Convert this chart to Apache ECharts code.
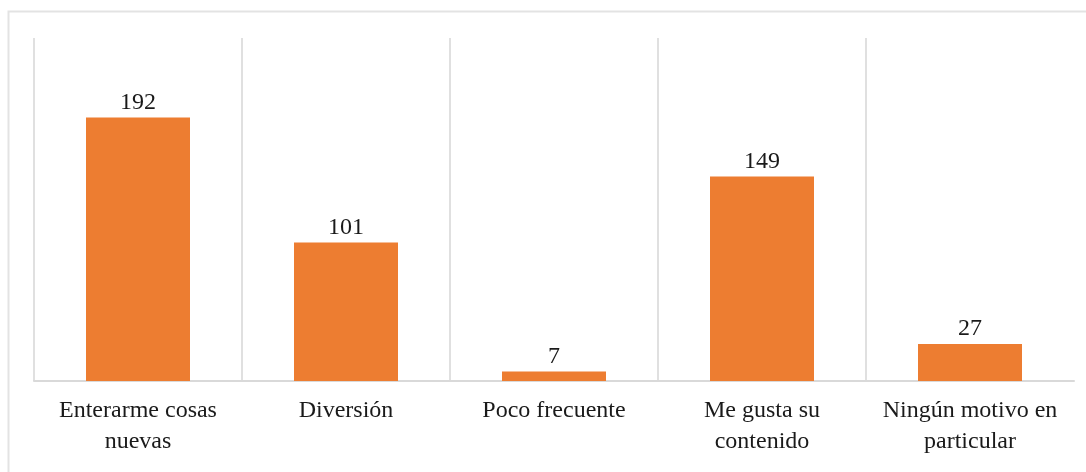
<!DOCTYPE html>
<html>
<head>
<meta charset="utf-8">
<script src="https://cdn.jsdelivr.net/npm/echarts@6/dist/echarts.min.js"></script>
<style>
  html, body { margin: 0; padding: 0; background: #fff; }
  #chart { width: 1086px; height: 472px; }
</style>
</head>
<body>
<div id="chart"></div>
<script>
  // categorias y valores
  const categories = ['Enterarme cosas\nnuevas', 'Diversión', 'Poco frecuente', 'Me gusta su\ncontenido', 'Ningún motivo en\nparticular'];
  const values = [192, 101, 7, 149, 27];

  const myChart = echarts.init(document.getElementById('chart'));
  const option = {
    animation: false,
    textStyle: { fontFamily: '"Liberation Serif", "Times New Roman", serif' },
    graphic: [{
      type: 'rect',
      shape: { x: 8.5, y: 11.5, width: 1100, height: 500 },
      style: { fill: 'none', stroke: '#e3e3e3', lineWidth: 2 },
      silent: true
    }],
    grid: { left: 34, right: 12, top: 38, bottom: 91 },
    xAxis: {
      type: 'category',
      data: categories,
      axisTick: { show: false, interval: 0 },
      axisLine: { lineStyle: { color: '#d9d9d9', width: 2 } },
      axisLabel: {
        interval: 0,
        hideOverlap: false,
        color: '#1a1a1a',
        fontSize: 24,
        lineHeight: 31,
        margin: 14,
        fontFamily: '"Liberation Serif", serif'
      },
      splitLine: {
        show: true,
        interval: 0,
        showMaxLine: false,
        lineStyle: { color: '#e0e0e0', width: 2 }
      }
    },
    yAxis: {
      type: 'value',
      min: 0,
      max: 250,
      show: false
    },
    series: [{
      type: 'bar',
      data: values,
      barWidth: '50%',
      itemStyle: { color: '#ED7D31' },
      label: {
        show: true,
        position: 'top',
        distance: 3,
        color: '#1a1a1a',
        fontSize: 24,
        fontFamily: '"Liberation Serif", serif'
      }
    }]
  };
  myChart.setOption(option);
</script>
</body>
</html>
